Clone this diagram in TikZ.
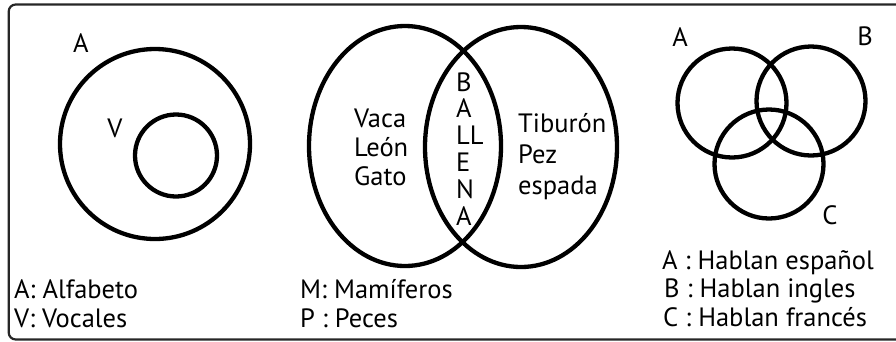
\documentclass[tikz,border=0pt]{standalone}
\usepackage{fontspec}
\setmainfont{PT Sans}
\usetikzlibrary{positioning}

\begin{document}
\begin{tikzpicture}[x=1pt, y=-1pt,
		every node/.style={font=\fontsize{26.5}{31}\selectfont, inner sep=0pt},
		conjunto/.style={draw, line width=4.3pt},
		leyenda/.style={anchor=base west}]
		\useasboundingbox (0,0) rectangle (896,341);
		\draw[line width=2.2pt, black!85, rounded corners=7pt] (8.7,4.5) rectangle (920,339.5);

		% A contiene a V
		\draw[conjunto] (155,144) circle[radius=95];
		\draw[conjunto] (176,155.5) circle[radius=41];
		\node (labA) at (81,43) {A};
		\node (labV) at (115,128) {V};
		\node[leyenda] (alfa) at (14,298) {A: Alfabeto};
		\node[leyenda] (voc) at (14,327) {V: Vocales};

		% mamiferos y peces
		\draw[conjunto] (405,146) ellipse[x radius=96, y radius=120];
		\draw[conjunto] (521,147) ellipse[x radius=96, y radius=120];
		\node[leyenda] (vaca) at (354,127) {Vaca};
		\node[leyenda] (leon) at (354,156) {León};
		\node[leyenda] (gato) at (354,185) {Gato};
		\node[leyenda] (tib) at (518,132) {Tiburón};
		\node[leyenda] (pez) at (518,163) {Pez};
		\node[leyenda] (esp) at (518,194) {espada};
		\foreach \l [count=\i from 0] in {B,A,LL,E,N,A}
			\node[leyenda] (bal\i) at (456,91+26.8*\i) {\l};
		\node[leyenda] (mam) at (300,298) {M: Mamíferos};
		\node[leyenda] (pec) at (300,327) {P : Peces};

		% tres idiomas
		\draw[conjunto] (732,103) circle[radius=54.5];
		\draw[conjunto] (811,101) circle[radius=54.5];
		\draw[conjunto] (769,164) circle[radius=54.5];
		\node (idA) at (680,37) {A};
		\node (idB) at (865,36) {B};
		\node (idC) at (830,215) {C};
		\node[leyenda] (esA) at (662,269) {A : Hablan español};
		\node[leyenda] (enB) at (664,297) {B : Hablan ingles};
		\node[leyenda] (frC) at (663,326) {C : Hablan francés};
	\end{tikzpicture}
\end{document}
